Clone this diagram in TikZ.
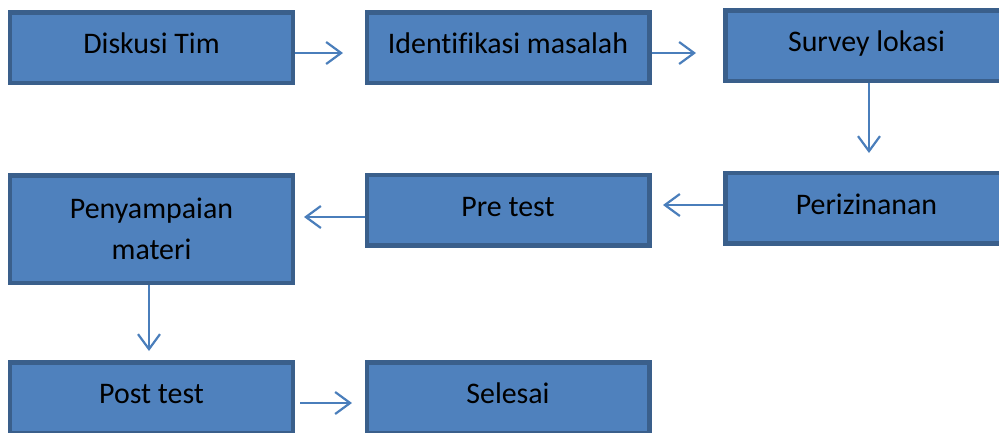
\documentclass[tikz,border=0pt]{standalone}
\usepackage{fontspec}
\setmainfont{Carlito}[Ligatures=NoCommon]
\usetikzlibrary{arrows.meta}

\definecolor{boxfill}{HTML}{4F81BD}
\definecolor{boxline}{HTML}{3A5F8B}
\definecolor{arrline}{HTML}{4A7EBB}

\tikzset{
  box/.style={draw=boxline, line width=4.5bp, fill=boxfill, rectangle,
    minimum width=282.5bp, minimum height=70.5bp, inner sep=0pt,
    font=\fontsize{30}{41}\selectfont},
  oneline/.style={box, text height=20bp, text depth=8bp},
  arr/.style={draw=arrline, line width=2.2bp,
    -{Straight Barb[length=15bp,width=22bp,line width=2.2bp]}}
}

\begin{document}
\begin{tikzpicture}[x=1bp, y=-1bp]
			\useasboundingbox (0,0) rectangle (999,432);
			\clip (0,0) rectangle (999,432);
			
  			\node[oneline] (diskusi) at (151.5,47.5) {Diskusi Tim}; % Box 1
  			\node[oneline] (identifikasi) at (508,47.5) {Identifikasi masalah}; % Box 2
  			\node[oneline] (survey) at (866.5,45.5) {Survey lokasi}; % Box 3
  			
  			\node[oneline] (izin) at (866.5,208) {Perizinanan}; % Box 4
  			\node[oneline] (pretest) at (508,210) {Pre test}; % Box 5
  			\node[box, minimum height=107.5bp, align=center] (materi) at (151.5,229) {Penyampaian\\materi}; % Box 6
  			
  			\node[oneline] (posttest) at (151.5,397.5) {Post test}; % Box 7
  			\node[oneline] (selesai) at (508,397.5) {Selesai}; % Box 8
  			
  			\draw[arr, shorten >=21.5bp] ([yshift=-5.5bp]diskusi.east) -- ([yshift=-5.5bp]identifikasi.west); % 1 to 2
  			\draw[arr, shorten >=27bp] ([yshift=-5.5bp]identifikasi.east) -- ([yshift=-5.5bp]identifikasi.east -| survey.west); % 2 to 3
  			\draw[arr, shorten >=17.5bp] ([xshift=2.5bp]survey.south) -- ([xshift=2.5bp]izin.north); % 3 to 4
  			\draw[arr, shorten >=11.5bp] ([yshift=3bp]izin.west) -- ([yshift=3bp]izin.west -| pretest.east); % 4 to 5
  			\draw[arr, shorten >=9bp] ([yshift=-7bp]pretest.west) -- ([yshift=-7bp]pretest.west -| materi.east); % 5 to 6
  			\draw[arr, shorten >=9bp] ([xshift=-2.5bp]materi.south) -- ([xshift=-2.5bp]posttest.north); % 6 to 7
  			\draw[arr, shorten <=5bp, shorten >=12.5bp] ([yshift=-5.5bp]posttest.east) -- ([yshift=-5.5bp]selesai.west); % 7 to 8
		\end{tikzpicture}
\end{document}
